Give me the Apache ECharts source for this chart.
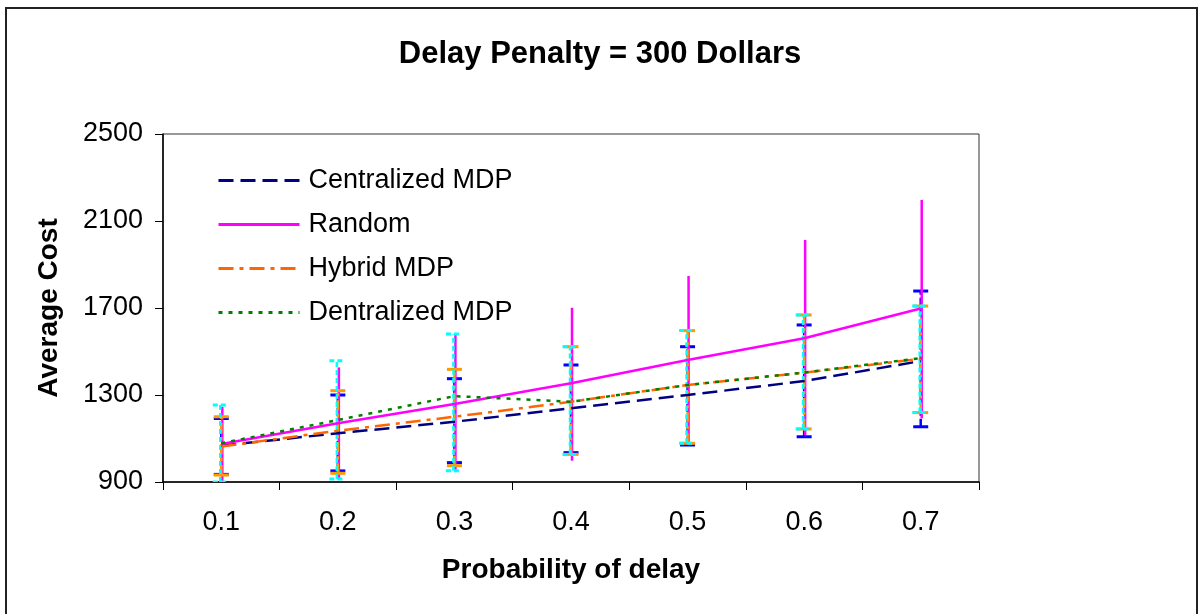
<!DOCTYPE html>
<html>
<head>
<meta charset="utf-8">
<script src="https://cdn.jsdelivr.net/npm/echarts@6/dist/echarts.min.js"></script>
<style>
html,body{margin:0;padding:0;background:#fff;}
#chart{width:1200px;height:614px;}
</style>
</head>
<body>
<div id="chart"></div>
<script>
var categories = ['0.1','0.2','0.3','0.4','0.5','0.6','0.7'];
var yTicks = [900, 1300, 1700, 2100, 2500];

var centralMean = [1067, 1124, 1177, 1239, 1300, 1364, 1456];
var centralLow  = [935, 951, 989, 1035, 1070, 1108, 1154];
var centralHigh = [1192, 1300, 1375, 1438, 1522, 1622, 1778];

var randomMean = [1075, 1170, 1259, 1354, 1461, 1561, 1698];
var randomLow  = [895, 917, 947, 998, 1085, 1116, 1193];
var randomHigh = [1246, 1427, 1584, 1701, 1847, 2013, 2197];

var hybridMean = [1063, 1136, 1200, 1269, 1346, 1403, 1466];
var hybridLow  = [932, 940, 975, 1027, 1078, 1144, 1219];
var hybridHigh = [1200, 1320, 1418, 1522, 1596, 1668, 1709];

var decMean = [1078, 1185, 1295, 1269, 1346, 1403, 1470];
var decLow  = [900, 914, 952, 1027, 1078, 1144, 1219];
var decHigh = [1254, 1458, 1580, 1522, 1596, 1668, 1709];

var FONT = 'Liberation Sans, Arial, sans-serif';

function errSeries(name, low, high, color, dash, showCap, capDash, dx, z) {
  return {
    type: 'custom',
    name: name,
    clip: true,
    z: z,
    silent: true,
    data: categories.map(function (c, i) { return [i, low[i], high[i]]; }),
    renderItem: function (params, api) {
      var x = api.value(0);
      var lo = api.coord([x, api.value(1)]);
      var hi = api.coord([x, api.value(2)]);
      var cx = lo[0] + dx;
      var st = { stroke: color, lineWidth: 2.5, lineDash: dash, fill: null };
      var ch = [{ type: 'line', shape: { x1: cx, y1: lo[1], x2: cx, y2: hi[1] }, style: st }];
      if (showCap) {
        var w = 7.5;
        var cst = { stroke: color, lineWidth: 3, lineDash: capDash, fill: null };
        ch.push({ type: 'line', shape: { x1: cx - w, y1: lo[1], x2: cx + w, y2: lo[1] }, style: cst });
        ch.push({ type: 'line', shape: { x1: cx - w, y1: hi[1], x2: cx + w, y2: hi[1] }, style: cst });
      }
      return { type: 'group', children: ch };
    }
  };
}

function lineSeries(name, data, color, dash, z) {
  return {
    type: 'line',
    name: name,
    data: data,
    symbol: 'none',
    z: z,
    lineStyle: { color: color, width: 2.5, type: dash },
    itemStyle: { color: color }
  };
}

var chart = echarts.init(document.getElementById('chart'));
chart.setOption({
  animation: false,
  backgroundColor: '#fff',
  graphic: [{
    type: 'rect',
    shape: { x: 6, y: 8, width: 1191, height: 640 },
    style: { stroke: '#222', lineWidth: 2, fill: null },
    silent: true
  }],
  title: {
    text: 'Delay Penalty = 300 Dollars',
    left: 'center',
    top: 34,
    textStyle: { fontFamily: FONT, fontSize: 31, fontWeight: 'bold', color: '#000' }
  },
  legend: {
    orient: 'vertical',
    left: 212,
    top: 161,
    itemWidth: 81,
    itemHeight: 14,
    itemGap: 15,
    itemStyle: { opacity: 0 },
    lineStyle: { width: 3 },
    data: ['Centralized MDP', 'Random', 'Hybrid MDP', 'Dentralized MDP'],
    textStyle: { fontFamily: FONT, fontSize: 27, color: '#000', lineHeight: 29, padding: [0, 0, 0, 4] }
  },
  grid: {
    left: 163, right: 221, top: 134, bottom: 132,
    show: true, borderColor: '#333', borderWidth: 1, backgroundColor: 'transparent'
  },
  xAxis: {
    type: 'category',
    data: categories,
    boundaryGap: true,
    name: 'Probability of delay',
    nameLocation: 'middle',
    nameGap: 74,
    nameTextStyle: { fontFamily: FONT, fontSize: 28, fontWeight: 'bold', color: '#000' },
    axisLine: { lineStyle: { color: '#000', width: 1.5 } },
    axisTick: { show: true, length: 8, lineStyle: { color: '#000' }, alignWithLabel: false },
    axisLabel: { fontFamily: FONT, fontSize: 27, color: '#000', margin: 27 },
    splitLine: { show: false }
  },
  yAxis: {
    type: 'value',
    min: 900,
    max: 2500,
    interval: 400,
    name: 'Average Cost',
    nameLocation: 'middle',
    nameGap: 100,
    nameTextStyle: { fontFamily: FONT, fontSize: 28, fontWeight: 'bold', color: '#000' },
    axisLine: { show: true, lineStyle: { color: '#000', width: 1.5 } },
    axisTick: { show: true, length: 8, lineStyle: { color: '#000' } },
    axisLabel: {
      fontFamily: FONT, fontSize: 27, color: '#000', margin: 20,
      formatter: function (v) { return yTicks.indexOf(v) >= 0 ? String(v) : ''; }
    },
    splitLine: { show: false }
  },
  series: [
    errSeries('errC', centralLow, centralHigh, '#0000FF', [8, 3], true, null, 0, 2),
    errSeries('errR', randomLow, randomHigh, '#FF00FF', null, false, null, 1, 2),
    errSeries('errH', hybridLow, hybridHigh, '#FF9900', [10, 4, 3, 4], true, null, 0, 2),
    errSeries('errD', decLow, decHigh, '#00FFFF', [5, 3], true, [5, 3], -1, 2),
    lineSeries('Centralized MDP', centralMean, '#000080', [15, 7], 3),
    lineSeries('Random', randomMean, '#FF00FF', 'solid', 3),
    lineSeries('Hybrid MDP', hybridMean, '#FF6600', [15, 6, 4, 6], 3),
    lineSeries('Dentralized MDP', decMean, '#008000', [4, 6], 3)
  ]
});
</script>
</body>
</html>
